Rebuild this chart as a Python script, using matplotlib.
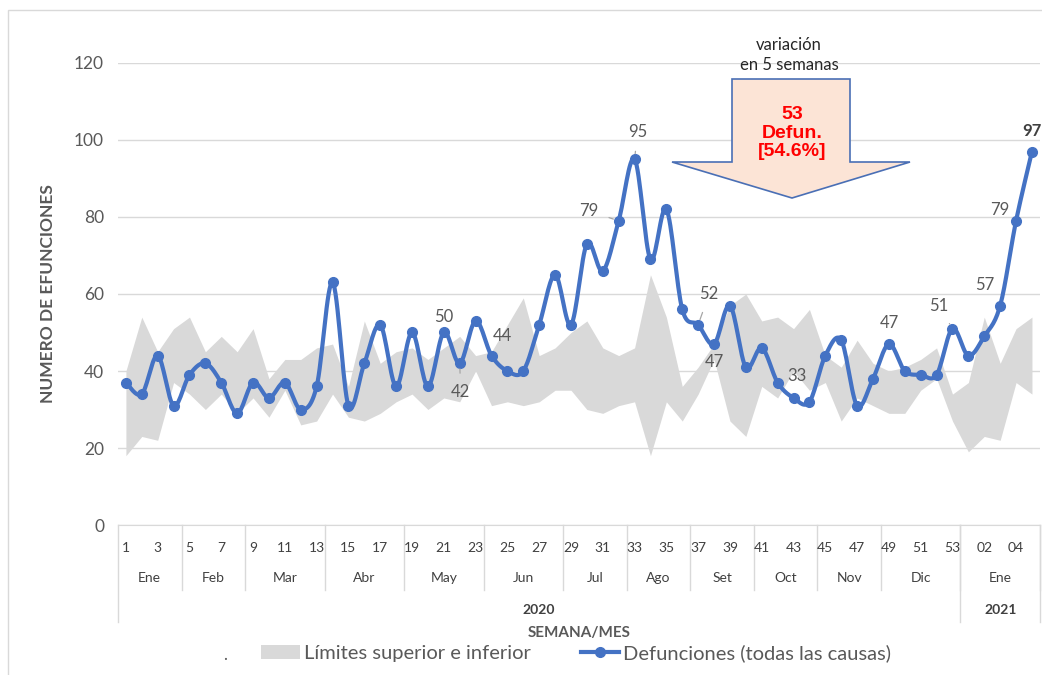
import numpy as np
import matplotlib.pyplot as plt
import matplotlib.transforms as mtransforms
from matplotlib.patches import Polygon, Patch, Rectangle
from matplotlib.lines import Line2D

# Datos semanales: 2020 (semanas 1-53) y 2021 (semanas 01-05)
week_labels = ["1", "2", "3", "4", "5", "6", "7", "8", "9", "10",
               "11", "12", "13", "14", "15", "16", "17", "18", "19", "20",
               "21", "22", "23", "24", "25", "26", "27", "28", "29", "30",
               "31", "32", "33", "34", "35", "36", "37", "38", "39", "40",
               "41", "42", "43", "44", "45", "46", "47", "48", "49", "50",
               "51", "52", "53", "01", "02", "03", "04", "05"]

defunciones = [37, 34, 44, 31, 39, 42, 37, 29, 37, 33,
               37, 30, 36, 63, 31, 42, 52, 36, 50, 36,
               50, 42, 53, 44, 40, 40, 52, 65, 52, 73,
               66, 79, 95, 69, 82, 56, 52, 47, 57, 41,
               46, 37, 33, 32, 44, 48, 31, 38, 47, 40,
               39, 39, 51, 44, 49, 57, 79, 97]

limite_sup = [40, 54, 45, 51, 54, 45, 49, 45, 51, 38,
              43, 43, 46, 47, 36, 53, 42, 45, 46, 43,
              46, 49, 44, 45, 52, 59, 44, 46, 50, 53,
              46, 44, 46, 65, 54, 36, 41, 47, 57, 60,
              53, 54, 51, 56, 44, 41, 48, 42, 40, 41,
              43, 46, 34, 37, 54, 42, 51, 54]

limite_inf = [18, 23, 22, 37, 34, 30, 34, 29, 33, 28,
              35, 26, 27, 34, 28, 27, 29, 32, 34, 30,
              33, 32, 40, 31, 32, 31, 32, 35, 35, 30,
              29, 31, 32, 18, 32, 27, 34, 43, 27, 23,
              36, 33, 40, 35, 37, 27, 33, 31, 29, 29,
              35, 38, 27, 19, 23, 22, 37, 34]

meses = ["Ene", "Feb", "Mar", "Abr", "May", "Jun", "Jul",
         "Ago", "Set", "Oct", "Nov", "Dic", "Ene"]
semanas_por_mes = [4, 4, 5, 5, 5, 5, 4, 4, 4, 4, 4, 5, 5]
anios = ["2020", "2021"]
semanas_por_anio = [53, 5]

# semanas con etiqueta de dato
idx_etiquetas = [20, 21, 23, 31, 32, 36, 37, 42, 48, 52, 55, 56, 57]

AZUL = "#4472C4"
GRIS_BANDA = "#D9D9D9"
GRIS_TXT = "#595959"

plt.rcParams['font.family'] = ['Lato', 'DejaVu Sans']


def suavizar(xs, ys, n=16):
    # línea suavizada estilo Excel (Catmull-Rom -> Bezier)
    xs = np.asarray(xs, float)
    ys = np.asarray(ys, float)
    px = np.concatenate([[xs[0]], xs, [xs[-1]]])
    py = np.concatenate([[ys[0]], ys, [ys[-1]]])
    t = np.linspace(0, 1, n, endpoint=False)[:, None]
    out_x, out_y = [], []
    for k in range(1, len(px) - 2):
        p0, p1, p2, p3 = (np.array([px[j], py[j]]) for j in range(k - 1, k + 3))
        c1 = p1 + (p2 - p0) / 6
        c2 = p2 - (p3 - p1) / 6
        pts = ((1 - t) ** 3) * p1 + 3 * ((1 - t) ** 2) * t * c1 + 3 * (1 - t) * t ** 2 * c2 + t ** 3 * p2
        out_x.extend(pts[:, 0])
        out_y.extend(pts[:, 1])
    out_x.append(xs[-1])
    out_y.append(ys[-1])
    return out_x, out_y


W, H = 1042, 675
fig = plt.figure(figsize=(W / 100, H / 100), dpi=100)
ax = fig.add_axes([0.1132, 0.2222, 0.8848, 0.6845])

x = list(range(len(defunciones)))
ax.fill_between(x, limite_inf, limite_sup, color=GRIS_BANDA, linewidth=0, zorder=1)
sx, sy = suavizar(x, defunciones)
ax.plot(sx, sy, color=AZUL, lw=3, zorder=3, solid_capstyle='round')
ax.plot(x, defunciones, color=AZUL, lw=0, marker='o', ms=7, zorder=4)

ax.set_xlim(-0.5, len(x) - 0.5)
ax.set_ylim(0, 120)
ax.set_yticks(range(0, 121, 20))
ax.grid(axis='y', color=GRIS_BANDA, lw=1)
ax.set_axisbelow(True)
for s in ['top', 'right', 'left']:
    ax.spines[s].set_visible(False)
ax.spines['bottom'].set_color(GRIS_BANDA)
ax.tick_params(axis='y', length=0, labelsize=12.5, colors=GRIS_TXT, pad=10)
ax.set_xticks([])
ax.set_ylabel("NUMERO DE EFUNCIONES", fontsize=12.5, fontweight='bold',
              color=GRIS_TXT, labelpad=13)

# eje x jerárquico: semana / mes / año
trans = mtransforms.blended_transform_factory(ax.transData, ax.transAxes)
for i in range(0, len(week_labels), 2):
    ax.text(i, -0.05, week_labels[i], transform=trans, ha='center', va='center',
            fontsize=10, color='#404040', clip_on=False)

inicio = -0.5
for mes, n in zip(meses, semanas_por_mes):
    ax.text(inicio + n / 2, -0.1147, mes, transform=trans, ha='center', va='center',
            fontsize=10, color='#404040', clip_on=False)
    inicio += n
    ax.plot([inicio, inicio], [0, -0.1407], transform=trans, color=GRIS_BANDA,
            lw=1, clip_on=False)

inicio = -0.5
ax.plot([inicio, inicio], [0, -0.21], transform=trans, color=GRIS_BANDA, lw=1, clip_on=False)
for anio, n in zip(anios, semanas_por_anio):
    ax.text(inicio + n / 2, -0.184, anio, transform=trans, ha='center', va='center',
            fontsize=10, fontweight='bold', color='#404040', clip_on=False)
    inicio += n
    ax.plot([inicio, inicio], [0, -0.21], transform=trans, color=GRIS_BANDA,
            lw=1, clip_on=False)

ax.text(0.5, -0.234, "SEMANA/MES", transform=ax.transAxes, ha='center', va='center',
        fontsize=11, fontweight='bold', color=GRIS_TXT)

# etiquetas de datos (desplazamiento en píxeles, línea guía)
offsets = {20: (0, 15, False), 21: (1, -29, True), 23: (11, 20, False),
           31: (-30, 10, True), 32: (3, 27, True), 36: (11, 31, True),
           37: (0, -18, False), 42: (3, 22, False), 48: (0, 21, False),
           52: (-14, 23, True), 55: (-15, 21, False), 56: (-16, 11, False),
           57: (0, 21, False)}
for i in idx_etiquetas:
    dx, dy, guia = offsets[i]
    props = dict(arrowstyle='-', color='#A6A6A6', lw=0.9, shrinkA=6, shrinkB=4) if guia else None
    ax.annotate(str(defunciones[i]), xy=(i, defunciones[i]), xytext=(dx, dy),
                textcoords='offset pixels', ha='center', va='center',
                fontsize=12, color=GRIS_TXT if i != 57 else '#404040',
                fontweight='bold' if i == 57 else 'normal',
                arrowprops=props, annotation_clip=False, zorder=5)

# flecha de variación
def fp(px, py):
    return (px / W, 1 - py / H)

flecha = [fp(732, 79), fp(850, 79), fp(850, 162), fp(910, 162), fp(792, 198),
          fp(672, 162), fp(732, 162)]
fig.patches.append(Polygon(flecha, closed=True, transform=fig.transFigure,
                           facecolor="#FCE4D6", edgecolor="#4A6FB5", lw=1.2, zorder=6))
fig.text(*fp(792, 133), "53\nDefun.\n[54.6%]", ha='center', va='center',
         fontsize=14, fontweight='bold', color='red', linespacing=1.15,
         family=['Liberation Sans', 'DejaVu Sans'], zorder=7)
fig.text(*fp(789, 55), "variación\nen 5 semanas", ha='center', va='center',
         fontsize=12, color='#262626', linespacing=1.3)

# leyenda
handles = [Patch(facecolor=GRIS_BANDA, edgecolor='none'),
           Line2D([0], [0], color=AZUL, lw=3, marker='o', ms=7)]
fig.legend(handles, ["Límites superior e inferior", "Defunciones (todas las causas)"],
           loc='center', bbox_to_anchor=(0.553, 1 - 653 / H), ncol=2, frameon=False,
           fontsize=14.5, handlelength=1.9, handletextpad=0.2, columnspacing=2.5,
           labelcolor=GRIS_TXT)
fig.text(*fp(225, 655), ".", ha='center', va='center', fontsize=12, color=GRIS_TXT)

# borde del área del gráfico
fig.patches.append(Rectangle(fp(8, 690), 1.1, (690 - 10) / H, transform=fig.transFigure,
                             fill=False, edgecolor=GRIS_BANDA, lw=1))

fig.savefig("out.png", dpi=100, facecolor='white')
